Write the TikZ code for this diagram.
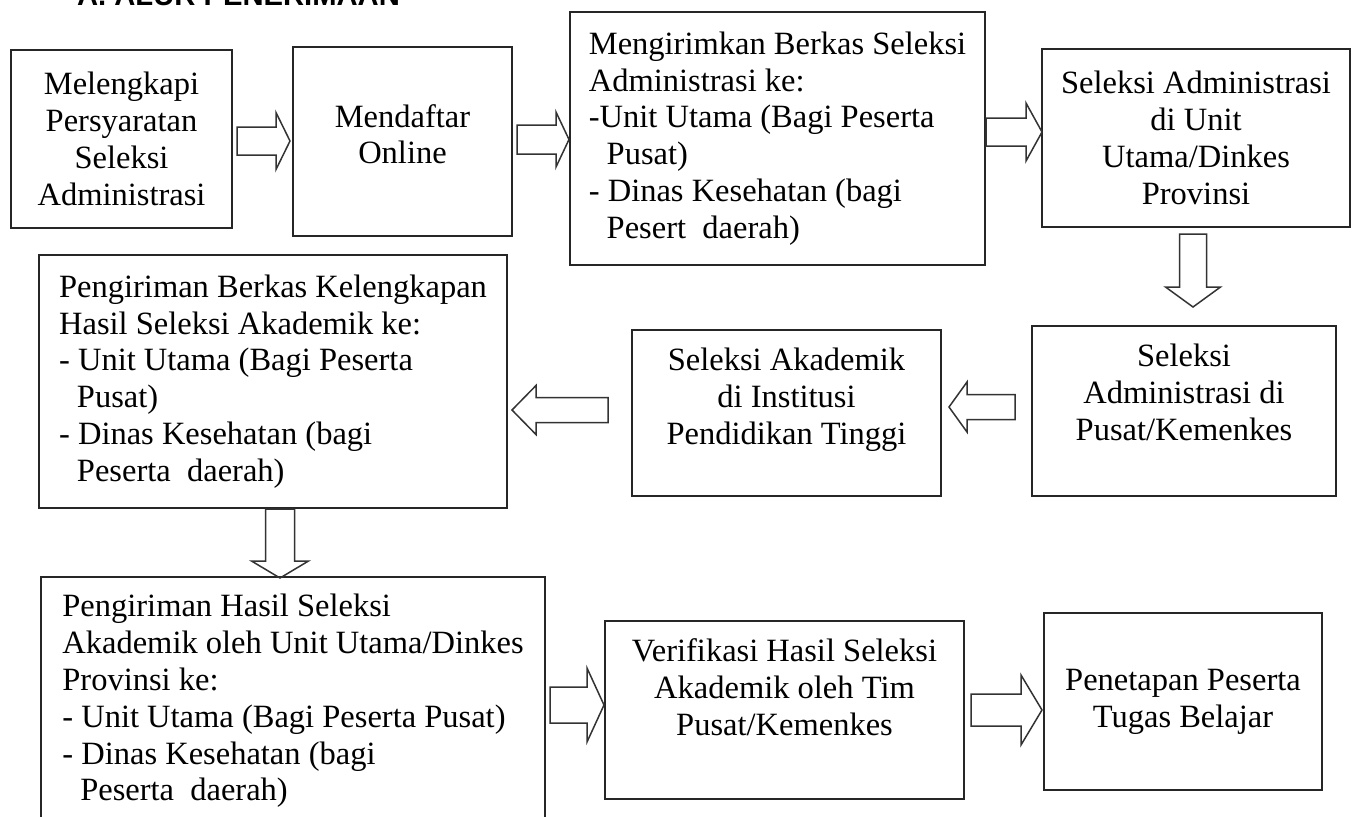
\documentclass[tikz,border=0pt]{standalone}
\usepackage{fontspec}
\setmainfont{Liberation Serif}
\newfontfamily\titlefont{Liberation Sans}
\usetikzlibrary{calc}
\tikzstyle{stepbox} = [draw=black!85, line width=1pt, inner sep=4pt, align=center, font=\fontsize{16.25}{18.4}\selectfont]
\tikzstyle{leftbox} = [stepbox, align=left]
\tikzstyle{arrowline} = [draw=black!80, line width=0.75pt]
\tikzset{
  pics/fatarrow/.style n args={4}{code={
    \draw[arrowline] (0,-#3) -- ({#1-#2},-#3) -- ({#1-#2},-#4) -- (#1,0) -- ({#1-#2},#4) -- ({#1-#2},#3) -- (0,#3) -- cycle;
  }}
}
\newcommand{\ind}{\hspace*{0.55em}}

\begin{document}
\begin{tikzpicture}[x=0.5pt, y=-0.5pt]
  \clip (0,0) rectangle (1355,816);

  \node[anchor=base west, font=\titlefont\bfseries\fontsize{14.6}{16}\selectfont] (title) at (70,5) {A. ALUR PENERIMAAN};

  % first row
  \node[stepbox, minimum width=110.5pt, minimum height=89pt] (lengkap) at (121.5,139) {Melengkapi\\Persyaratan\\Seleksi\\Administrasi};
  \node[stepbox, minimum width=109.5pt, minimum height=94.5pt, text depth=7.5pt] (daftar) at (402.5,141.5) {Mendaftar\\Online};
  \node[leftbox, minimum width=207.5pt, minimum height=126.5pt] (kirim) at (777.5,138.5) {Mengirimkan Berkas Seleksi\\Administrasi ke:\\-Unit Utama (Bagi Peserta\\\ind Pusat)\\- Dinas Kesehatan (bagi\\\ind Pesert\ \ daerah)};
  \node[stepbox, minimum width=154pt, minimum height=89pt] (selunit) at (1196,138) {Seleksi Administrasi\\di Unit\\Utama/Dinkes\\Provinsi};

  % second row
  \node[stepbox, minimum width=152pt, minimum height=85pt, text depth=19pt] (selpusat) at (1184,411) {Seleksi\\Administrasi di\\Pusat/Kemenkes};
  \node[stepbox, minimum width=154.5pt, minimum height=83pt, text depth=16.5pt] (akademik) at (786.5,413) {Seleksi Akademik\\di Institusi\\Pendidikan Tinggi};
  \node[leftbox, minimum width=234pt, minimum height=126.5pt] (berkas) at (273,381.5) {Pengiriman Berkas Kelengkapan\\Hasil Seleksi Akademik ke:\\- Unit Utama (Bagi Peserta\\\ind Pusat)\\- Dinas Kesehatan (bagi\\\ind Peserta\ \ daerah)};

  % third row
  \node[leftbox, minimum width=252pt, minimum height=124pt] (hasil) at (293,701) {Pengiriman Hasil Seleksi\\Akademik oleh Unit Utama/Dinkes\\Provinsi ke:\\- Unit Utama (Bagi Peserta Pusat)\\- Dinas Kesehatan (bagi\\\ind Peserta\ \ daerah)};
  \node[stepbox, minimum width=179.5pt, minimum height=89pt, text depth=23pt] (verif) at (784.5,710) {Verifikasi Hasil Seleksi\\Akademik oleh Tim\\Pusat/Kemenkes};
  \node[stepbox, minimum width=139pt, minimum height=88.5pt] (tetap) at (1183,701.5) {Penetapan Peserta\\Tugas Belajar};

  % block arrows
  \pic at ($(lengkap.east)+(4,2)$) {fatarrow={53}{14}{14}{28.5}};
  \pic at ($(daftar.east)+(4,-2)$) {fatarrow={52}{13}{14.5}{27.5}};
  \pic at ($(kirim.east)+(0,-6.5)$) {fatarrow={56}{16}{14}{29}};
  \pic[rotate=-90] at ($(selunit.south)+(-3,6)$) {fatarrow={73}{20}{13.5}{27.5}};
  \pic[rotate=180] at ($(selpusat.west)+(-16,-4)$) {fatarrow={66}{18}{12.5}{25}};
  \pic[rotate=180] at ($(akademik.west)+(-23,-3)$) {fatarrow={96}{24}{12.5}{24.5}};
  \pic[rotate=-90] at ($(berkas.south)+(7,0)$) {fatarrow={69}{17}{14.5}{28.5}};
  \pic at ($(verif.west)+(-54,-5)$) {fatarrow={54}{17}{18}{37}};
  \pic at ($(verif.east)+(6,0)$) {fatarrow={71}{21}{16}{35}};

\end{tikzpicture}
\end{document}
